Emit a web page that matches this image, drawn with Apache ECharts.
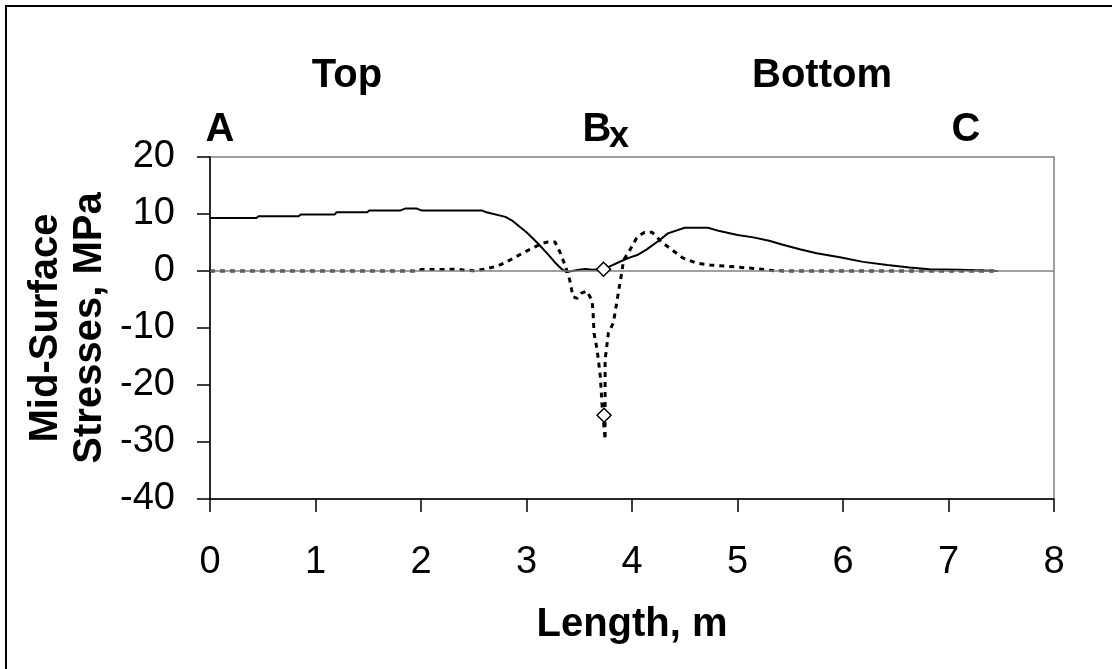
<!DOCTYPE html>
<html>
<head>
<meta charset="utf-8">
<script src="https://cdn.jsdelivr.net/npm/echarts@6/dist/echarts.min.js"></script>
<style>
  html, body { margin: 0; padding: 0; background: #fff; }
  #chart { width: 1112px; height: 669px; }
</style>
</head>
<body>
<div id="chart"></div>
<script>
// x ticks (m) and y ticks (MPa)
var xTicks = [0, 1, 2, 3, 4, 5, 6, 7, 8];
var yTicks = [-40, -30, -20, -10, 0, 10, 20];

// solid curve: [length, stress]
var solidLine = [
  [0, 9.3], [0.44, 9.3], [0.46, 9.6], [0.84, 9.6], [0.86, 9.9], [1.18, 9.9],
  [1.2, 10.3], [1.49, 10.3], [1.51, 10.6], [1.8, 10.6], [1.85, 10.95], [1.96, 10.95],
  [2.01, 10.6], [2.58, 10.6], [2.62, 10.3], [2.8, 9.5], [2.86, 8.9], [3.0, 6.8],
  [3.1, 5.0], [3.2, 3.0], [3.27, 1.5], [3.33, 0.4], [3.38, -0.2], [3.43, 0],
  [3.5, 0.2], [3.56, 0.35], [3.62, 0.2], [3.73, 0.3], [3.8, 0.9], [3.9, 1.75],
  [3.97, 2.3], [4.05, 2.8], [4.14, 3.8], [4.26, 5.4], [4.34, 6.6], [4.5, 7.6],
  [4.72, 7.6], [4.83, 7.0], [5.0, 6.3], [5.15, 5.9], [5.3, 5.3], [5.43, 4.6],
  [5.59, 3.8], [5.75, 3.1], [5.97, 2.4], [6.19, 1.6], [6.42, 1.05], [6.63, 0.6],
  [6.82, 0.3], [7.1, 0.2], [7.47, 0]
];

// dashed curve
var dashedLine = [
  [0, 0], [0.5, 0], [1, 0], [1.5, 0], [1.98, 0], [2.0, 0.25], [2.35, 0.3],
  [2.42, 0.1], [2.5, 0.05], [2.6, 0.3], [2.73, 0.9], [2.8, 1.5], [2.9, 2.5],
  [3.0, 3.5], [3.1, 4.4], [3.16, 4.9], [3.2, 5.1], [3.27, 5.1], [3.32, 3.2],
  [3.37, 0.8], [3.41, -1.6], [3.44, -4.5], [3.48, -4.8], [3.52, -3.9], [3.57, -3.5],
  [3.62, -5.1], [3.63, -6.8], [3.64, -10.9], [3.67, -13.9], [3.7, -18.5],
  [3.715, -23.2], [3.745, -29.6], [3.745, -22.5], [3.745, -15.6], [3.776, -10.9],
  [3.823, -9.1], [3.855, -5.6], [3.886, -2.1], [3.902, -0.4], [3.92, 1.9],
  [3.98, 3.7], [4.05, 6.0], [4.12, 6.8], [4.19, 6.8], [4.28, 5.1], [4.38, 3.7],
  [4.48, 2.3], [4.61, 1.4], [4.74, 1.05], [5.0, 0.7], [5.2, 0.35], [5.35, 0.05],
  [5.5, 0], [6, 0], [6.5, 0], [7, 0], [7.47, 0]
];

// diamond markers at B
var markers = [[3.73, 0.3], [3.735, -25.3]];

var font = '"Liberation Sans", Arial, sans-serif';
var bold = 'bold 40px ' + font;

function label(text, x, y, extra) {
  var el = { type: 'text', x: x, y: y, silent: true,
    style: { text: text, font: bold, fill: '#000', align: 'center', verticalAlign: 'middle' } };
  if (extra) { for (var k in extra) el[k] = extra[k]; }
  return el;
}

var chart = echarts.init(document.getElementById('chart'));
chart.setOption({
  animation: false,
  backgroundColor: '#fff',
  grid: {
    left: 210, top: 157, right: 58, bottom: 170,
    show: true, borderColor: '#808080', borderWidth: 1.5, backgroundColor: '#fff'
  },
  xAxis: {
    type: 'value', min: xTicks[0], max: xTicks[xTicks.length - 1], interval: 1,
    axisLine: { onZero: false, lineStyle: { color: '#000', width: 1.5 } },
    axisTick: { length: 13, lineStyle: { color: '#000', width: 1.5 } },
    axisLabel: { color: '#000', fontSize: 38, fontFamily: font, margin: 45 },
    splitLine: { show: false }
  },
  yAxis: {
    type: 'value', min: yTicks[0], max: yTicks[yTicks.length - 1], interval: 10,
    axisLine: { onZero: false, lineStyle: { color: '#000', width: 1.5 } },
    axisTick: { show: true, length: 13, lineStyle: { color: '#000', width: 1.5 } },
    axisLabel: { color: '#000', fontSize: 38, fontFamily: font, margin: 35 },
    splitLine: { show: false }
  },
  series: [
    {
      type: 'line', data: [], z: 1, silent: true,
      markLine: {
        silent: true, symbol: 'none', label: { show: false },
        lineStyle: { color: '#808080', type: 'solid', width: 1.5 },
        data: [{ yAxis: 0 }]
      }
    },
    {
      type: 'line', data: dashedLine, showSymbol: false, z: 3,
      lineStyle: { color: '#000', width: 3, type: [5, 5] }
    },
    {
      type: 'line', data: solidLine, showSymbol: false, z: 4,
      lineStyle: { color: '#000', width: 2 }
    },
    {
      type: 'scatter', data: markers, symbol: 'diamond', symbolSize: 14, z: 5,
      itemStyle: { color: '#fff', borderColor: '#000', borderWidth: 1.5, opacity: 1 }
    }
  ],
  graphic: [
    { type: 'rect', shape: { x: 6, y: 6, width: 1200, height: 1000 },
      style: { fill: 'none', stroke: '#000', lineWidth: 2 }, silent: true },
    label('Top', 347, 76),
    label('Bottom', 822, 76),
    label('A', 220, 130),
    label('B', 597, 130),
    { type: 'text', x: 619, y: 137, silent: true,
      style: { text: 'x', font: 'bold 36px ' + font, fill: '#000', align: 'center', verticalAlign: 'middle' } },
    label('C', 966, 130),
    label('Length, m', 632, 625),
    label('Mid-Surface', 46, 328, { rotation: Math.PI / 2 }),
    label('Stresses, MPa', 90, 328, { rotation: Math.PI / 2 })
  ]
});
</script>
</body>
</html>
